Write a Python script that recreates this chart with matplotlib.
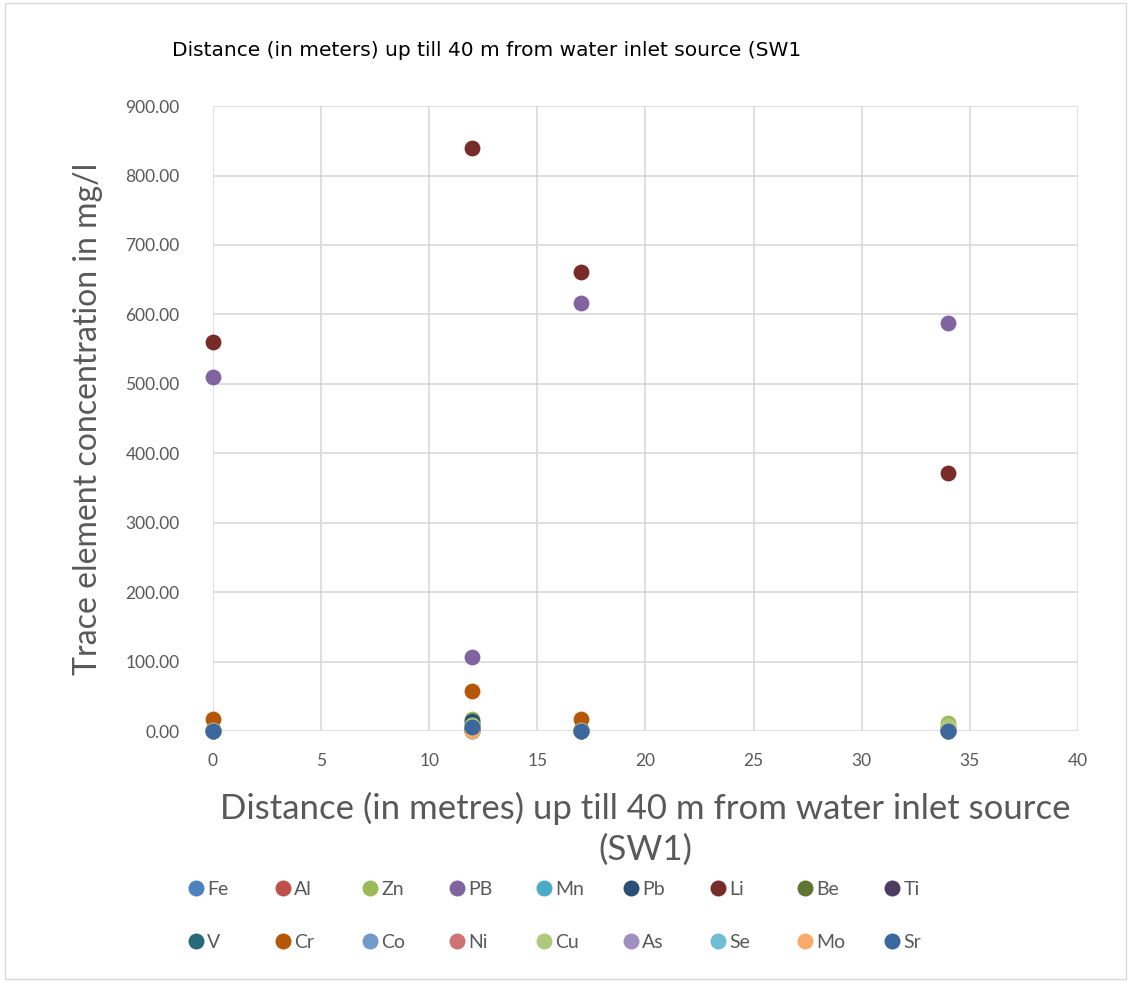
import matplotlib.pyplot as plt
from matplotlib.patches import Rectangle
from matplotlib.lines import Line2D

# distances (m)
distance = [0, 12, 17, 34]

# series names and values (mg/l)
elements = ["Fe", "Al", "Zn", "PB", "Mn", "Pb", "Li", "Be", "Ti",
            "V", "Cr", "Co", "Ni", "Cu", "As", "Se", "Mo", "Sr"]
values = {
    "Fe": [0.5, 2, 0.3, 0.4],
    "Al": [1, 3, 0.5, 0.5],
    "Zn": [2, 18, 3, 11],
    "PB": [510, 107, 616, 587],
    "Mn": [0.5, 1, 0.2, 0.3],
    "Pb": [1, 15, 2, 1],
    "Li": [560, 840, 661, 371],
    "Be": [0.1, 0.2, 0.1, 0.1],
    "Ti": [0.5, 5, 0.5, 0.5],
    "V": [0.5, 10, 0.5, 0.5],
    "Cr": [17, 57, 17, 6],
    "Co": [0.2, 1, 0.2, 0.2],
    "Ni": [1, 4, 1, 1],
    "Cu": [2, 9, 2, 8],
    "As": [0.1, 0.5, 0.1, 0.1],
    "Se": [0.1, 0.2, 0.1, 0.1],
    "Mo": [0.2, 0, 0.2, 0.2],
    "Sr": [0.5, 6, 0.5, 0.5],
}
colors = ["#4F81BD", "#C0504D", "#9BBB59", "#8064A2", "#4BACC6", "#2C4D75",
          "#772C2A", "#5F7530", "#4D3B62", "#276A7C", "#B65708", "#729ACA",
          "#CD7371", "#AFC97A", "#A18FBF", "#6FBDD3", "#F9AB6B", "#3A679C"]

gray = "#595959"
plt.rcParams['font.family'] = ['Lato', 'DejaVu Sans']

fig = plt.figure(figsize=(11.31, 9.83), dpi=100)
ax = fig.add_axes([0.1883, 0.2563, 0.7648, 0.6358])

for name, c in zip(elements, colors):
    ax.scatter(distance, values[name], s=130, color=c, label=name,
               zorder=3, clip_on=False, linewidths=0)

ax.set_xlim(0, 40)
ax.set_ylim(0, 900)
ax.set_xticks(range(0, 41, 5))
ax.set_yticks(range(0, 901, 100))
ax.set_yticklabels([f"{v:.2f}" for v in range(0, 901, 100)])
ax.grid(True, color="#D9D9D9", linewidth=1.2)
ax.set_axisbelow(True)
for s in ax.spines.values():
    s.set_visible(False)
ax.tick_params(length=0, labelsize=12.5, labelcolor=gray)
ax.tick_params(axis='y', pad=24)
ax.tick_params(axis='x', pad=16)

ax.set_xlabel("Distance (in metres) up till 40 m from water inlet source\n(SW1)",
              fontsize=25, color=gray, labelpad=16, linespacing=1.35)
ax.set_ylabel("Trace element concentration in mg/l", fontsize=23,
              color=gray, labelpad=16)

fig.text(172 / 1131, 1 - 50 / 983,
         "Distance (in meters) up till 40 m from water inlet source (SW1",
         fontsize=14.5, va="center", ha="left", color="black",
         family=['Liberation Sans Narrow', 'DejaVu Sans'])

# legend: two rows of nine, evenly spaced columns
handles = [Line2D([], [], marker='o', linestyle='', markersize=11.5,
                  markerfacecolor=c, markeredgewidth=0) for c in colors]
for i in range(9):
    fig.legend([handles[i], handles[i + 9]], [elements[i], elements[i + 9]],
               loc="upper left",
               bbox_to_anchor=((186 + 87 * i) / 1131, 1 - 881 / 983),
               borderaxespad=0, borderpad=0, frameon=False, fontsize=14,
               labelcolor=gray, handletextpad=0.1, handlelength=1.0,
               labelspacing=1.85)

fig.patches.append(Rectangle((0.004, 0.004), 0.992, 0.993,
                             transform=fig.transFigure, fill=False,
                             edgecolor="#D9D9D9", linewidth=1))

fig.savefig("out.png", dpi=100)
